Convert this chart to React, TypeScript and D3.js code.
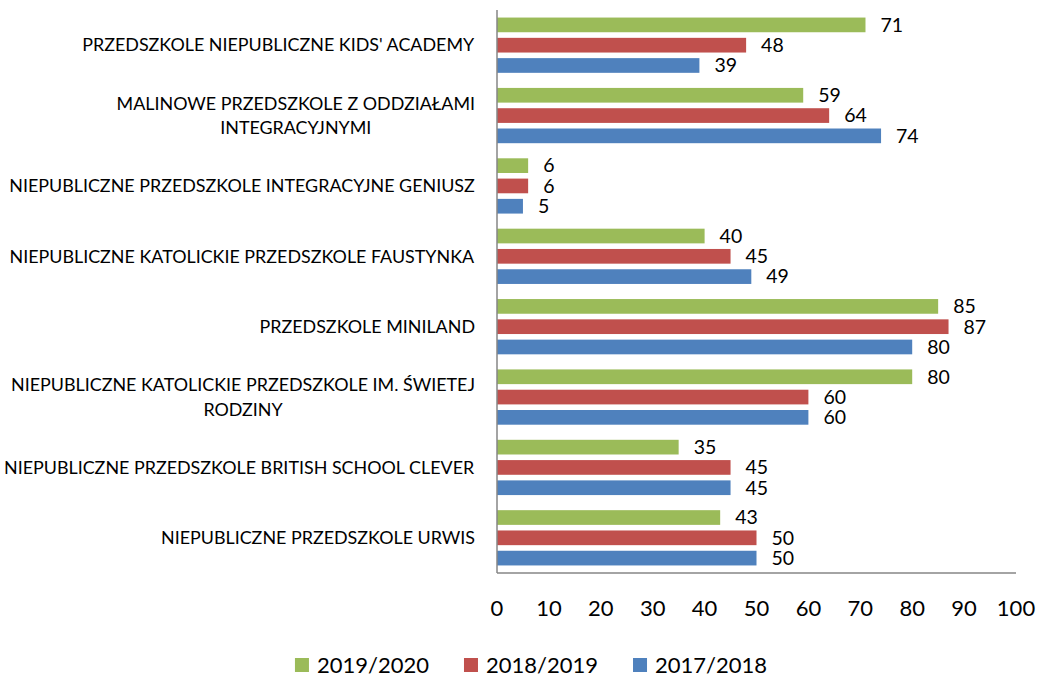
import React, { useEffect, useRef } from "react";
import * as d3 from "d3";

const categories = [
  "PRZEDSZKOLE NIEPUBLICZNE KIDS' ACADEMY",
  "MALINOWE PRZEDSZKOLE Z ODDZIAŁAMI\nINTEGRACYJNYMI",
  "NIEPUBLICZNE PRZEDSZKOLE INTEGRACYJNE GENIUSZ",
  "NIEPUBLICZNE KATOLICKIE PRZEDSZKOLE FAUSTYNKA",
  "PRZEDSZKOLE MINILAND",
  "NIEPUBLICZNE KATOLICKIE PRZEDSZKOLE IM. ŚWIETEJ\nRODZINY",
  "NIEPUBLICZNE PRZEDSZKOLE BRITISH SCHOOL CLEVER",
  "NIEPUBLICZNE PRZEDSZKOLE URWIS",
];
const seriesNames = ["2019/2020", "2018/2019", "2017/2018"];
const values2019_2020 = [71, 59, 6, 40, 85, 80, 35, 43];
const values2018_2019 = [48, 64, 6, 45, 87, 60, 45, 50];
const values2017_2018 = [39, 74, 5, 49, 80, 60, 45, 50];
const seriesColors = ["#9BBB59", "#C0504D", "#4F81BD"];
const xTicks = [0, 10, 20, 30, 40, 50, 60, 70, 80, 90, 100];

const W = 1037;
const H = 677;
const FONT = "Lato, 'Open Sans', sans-serif";

export default function App() {
  const ref = useRef<SVGSVGElement | null>(null);

  useEffect(() => {
    const svg = d3.select(ref.current);
    svg.selectAll("*").remove();

    const allSeries = [values2019_2020, values2018_2019, values2017_2018];
    const x = d3.scaleLinear().domain([0, 100]).range([497, 1016]);
    const y = d3.scaleBand<string>().domain(categories).range([10, 573]).padding(0);
    const inner = d3
      .scaleBand<string>()
      .domain(seriesNames)
      .range([0, y.bandwidth()])
      .paddingInner(0.276)
      .paddingOuter(0.372);

    // bars + labels
    seriesNames.forEach((name, si) => {
      const vals = allSeries[si];
      const g = svg.append("g");
      g.selectAll("rect")
        .data(categories)
        .join("rect")
        .attr("x", x(0))
        .attr("y", (c) => (y(c) as number) + (inner(name) as number))
        .attr("width", (c, i) => x(vals[i]) - x(0))
        .attr("height", inner.bandwidth())
        .attr("fill", seriesColors[si]);
      g.selectAll("text")
        .data(categories)
        .join("text")
        .attr("x", (c, i) => x(vals[i]) + 15)
        .attr("y", (c) => (y(c) as number) + (inner(name) as number) + inner.bandwidth() / 2)
        .attr("dy", "0.35em")
        .attr("font-family", FONT)
        .attr("font-size", 19.5)
        .attr("fill", "#000")
        .text((c, i) => String(vals[i]));
    });

    // axes lines
    svg.append("line")
      .attr("x1", x(0)).attr("x2", x(0))
      .attr("y1", 10).attr("y2", 573)
      .attr("stroke", "#868686").attr("stroke-width", 1.5);
    svg.append("line")
      .attr("x1", x(0)).attr("x2", x(100))
      .attr("y1", 573).attr("y2", 573)
      .attr("stroke", "#868686").attr("stroke-width", 1.5);

    // x tick labels
    svg.append("g")
      .selectAll("text")
      .data(xTicks)
      .join("text")
      .attr("x", (d) => x(d))
      .attr("y", 608)
      .attr("dy", "0.35em")
      .attr("text-anchor", "middle")
      .attr("font-family", FONT)
      .attr("font-size", 22)
      .attr("fill", "#000")
      .text((d) => String(d));

    // category labels (multi-line, centered block, right aligned)
    const lineH = 24.5;
    categories.forEach((c) => {
      const lines = c.split("\n");
      const g = svg.append("g");
      const cy = (y(c) as number) + y.bandwidth() / 2;
      lines.forEach((ln, li) => {
        g.append("text")
          .attr("x", 0)
          .attr("y", cy + (li - (lines.length - 1) / 2) * lineH)
          .attr("dy", "0.35em")
          .attr("text-anchor", "middle")
          .attr("font-family", FONT)
          .attr("font-size", 17.9)
          .attr("fill", "#000")
          .text(ln);
      });
      const bb = (g.node() as SVGGElement).getBBox();
      g.attr("transform", `translate(${475 - (bb.x + bb.width)},0)`);
    });

    // legend
    const lg = svg.append("g");
    let cx = 0;
    seriesNames.forEach((name, si) => {
      lg.append("rect")
        .attr("x", cx).attr("y", 658)
        .attr("width", 14).attr("height", 14)
        .attr("fill", seriesColors[si]);
      const t = lg.append("text")
        .attr("x", cx + 22)
        .attr("y", 665)
        .attr("dy", "0.35em")
        .attr("font-family", FONT)
        .attr("font-size", 22)
        .attr("fill", "#000")
        .text(name);
      const w = (t.node() as SVGTextElement).getComputedTextLength();
      cx += 22 + w + 35;
    });
    const lb = (lg.node() as SVGGElement).getBBox();
    lg.attr("transform", `translate(${531 - (lb.x + lb.width / 2)},0)`);
  }, []);

  return (
    <svg
      ref={ref}
      width={W}
      height={H}
      style={{ position: "absolute", left: 0, top: 0, background: "#fff" }}
    />
  );
}
